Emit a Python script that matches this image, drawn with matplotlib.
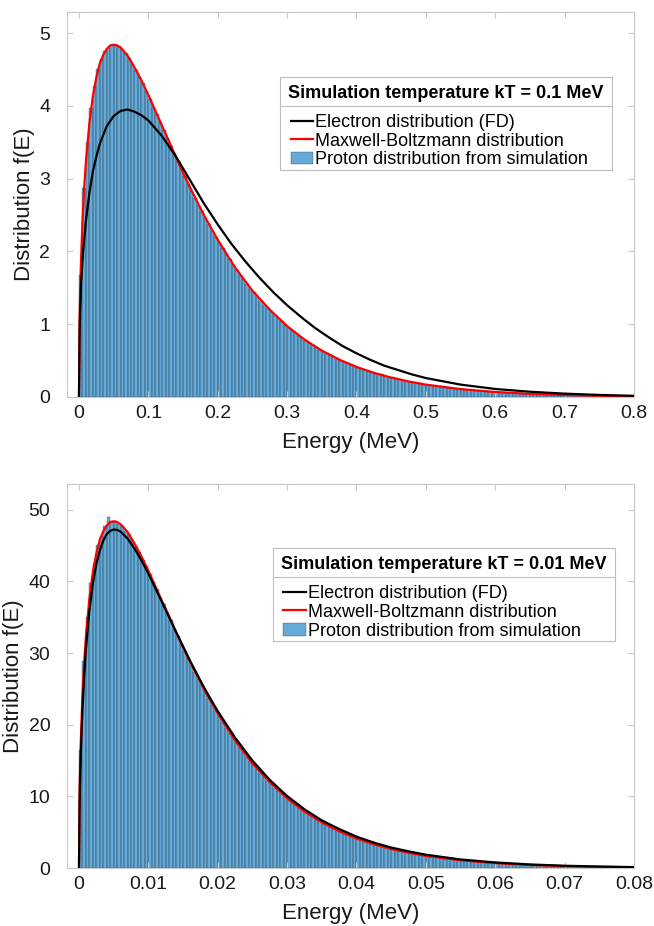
import numpy as np
import matplotlib
matplotlib.use('Agg')
from matplotlib import pyplot as plt
from matplotlib.lines import Line2D
from matplotlib.offsetbox import VPacker, HPacker, DrawingArea

plt.rcParams['font.family'] = ['Liberation Sans', 'DejaVu Sans']

# ---- top panel, kT = 0.1 MeV ----
top_bin_width = 0.005
top_counts = [
    1.68, 2.87, 3.51, 3.97, 4.27, 4.50, 4.64, 4.76, 4.80, 4.84,
    4.83, 4.82, 4.77, 4.72, 4.66, 4.57, 4.49, 4.40, 4.31, 4.20,
    4.10, 3.99, 3.89, 3.78, 3.67, 3.56, 3.45, 3.35, 3.24, 3.13,
    3.03, 2.93, 2.83, 2.74, 2.64, 2.55, 2.46, 2.37, 2.28, 2.20,
    2.12, 2.04, 1.96, 1.89, 1.82, 1.75, 1.68, 1.62, 1.55, 1.49,
    1.44, 1.38, 1.32, 1.27, 1.22, 1.17, 1.12, 1.08, 1.04, 0.99,
    0.95, 0.91, 0.88, 0.84, 0.81, 0.77, 0.74, 0.71, 0.68, 0.65,
    0.62, 0.60, 0.57, 0.55, 0.53, 0.50, 0.48, 0.46, 0.44, 0.42,
    0.40, 0.39, 0.37, 0.36, 0.34, 0.32, 0.31, 0.31, 0.29, 0.28,
    0.27, 0.26, 0.25, 0.23, 0.22, 0.21, 0.20, 0.19, 0.18, 0.17,
    0.167, 0.159, 0.152, 0.145, 0.139, 0.133, 0.127, 0.121, 0.116, 0.111,
    0.106, 0.101, 0.097, 0.092, 0.088, 0.084, 0.081, 0.077, 0.074, 0.070,
    0.067, 0.064, 0.061, 0.059, 0.056, 0.054, 0.051, 0.049, 0.047, 0.045,
    0.043, 0.041, 0.039, 0.037, 0.036, 0.034, 0.033, 0.031, 0.030, 0.028,
    0.027, 0.026, 0.025, 0.024, 0.023, 0.022, 0.021, 0.020, 0.019, 0.018,
    0.017, 0.016, 0.016, 0.015, 0.014, 0.014, 0.013, 0.012, 0.012, 0.011]

top_mb_E = [0, 0.001, 0.0025, 0.005, 0.0075, 0.01, 0.015, 0.02, 0.025, 0.03,
            0.035, 0.04, 0.045, 0.05, 0.055, 0.06, 0.07, 0.08, 0.09, 0.10,
            0.12, 0.13, 0.14, 0.15, 0.16, 0.17, 0.18, 0.19, 0.20, 0.225,
            0.25, 0.275, 0.30, 0.325, 0.35, 0.375, 0.40, 0.425, 0.45, 0.475,
            0.50, 0.55, 0.60, 0.65, 0.70, 0.75, 0.80]
top_mb_f = [0, 1.12, 1.74, 2.40, 2.87, 3.23, 3.76, 4.13, 4.39, 4.58,
            4.70, 4.78, 4.83, 4.84, 4.83, 4.80, 4.69, 4.53, 4.35, 4.15,
            3.72, 3.51, 3.29, 3.08, 2.88, 2.69, 2.50, 2.33, 2.16, 1.78,
            1.46, 1.20, 0.973, 0.789, 0.637, 0.514, 0.413, 0.332, 0.266, 0.213,
            0.170, 0.108, 0.069, 0.043, 0.027, 0.017, 0.011]

top_fd_E = [0, 0.001, 0.003, 0.006, 0.01, 0.015, 0.02, 0.025, 0.03, 0.04,
            0.05, 0.06, 0.07, 0.08, 0.09, 0.10, 0.12, 0.14, 0.16, 0.18,
            0.20, 0.22, 0.24, 0.26, 0.28, 0.30, 0.32, 0.34, 0.36, 0.38,
            0.40, 0.42, 0.44, 0.46, 0.48, 0.50, 0.55, 0.60, 0.65, 0.70,
            0.75, 0.80]
top_fd_f = [0, 0.95, 1.55, 2.0, 2.42, 2.80, 3.10, 3.30, 3.48, 3.72,
            3.86, 3.93, 3.95, 3.92, 3.87, 3.80, 3.58, 3.30, 2.98, 2.66,
            2.37, 2.10, 1.86, 1.64, 1.44, 1.26, 1.10, 0.95, 0.82, 0.70,
            0.60, 0.51, 0.43, 0.37, 0.31, 0.26, 0.17, 0.11, 0.072, 0.046,
            0.028, 0.016]

# ---- bottom panel, kT = 0.01 MeV ----
bot_bin_width = 0.0005
bot_counts = [
    16.5, 28.9, 35.0, 39.8, 42.6, 45.1, 46.3, 47.7, 49.0, 48.3,
    48.4, 48.0, 47.8, 47.1, 46.6, 45.8, 44.8, 44.1, 43.0, 42.1,
    41.0, 39.9, 38.9, 37.7, 36.8, 35.6, 34.6, 33.4, 32.4, 31.3,
    30.3, 29.3, 28.3, 27.4, 26.4, 25.5, 24.6, 23.7, 22.8, 22.0,
    21.2, 20.4, 19.6, 18.9, 18.2, 17.5, 16.8, 16.2, 15.5, 14.9,
    14.4, 13.8, 13.2, 12.7, 12.2, 11.7, 11.2, 10.8, 10.4, 9.9,
    9.5, 9.1, 8.8, 8.4, 8.1, 7.7, 7.4, 7.1, 6.8, 6.5,
    6.2, 6.0, 5.7, 5.5, 5.3, 5.0, 4.8, 4.6, 4.4, 4.2,
    4.0, 3.9, 3.7, 3.6, 3.4, 3.2, 3.1, 3.0, 2.8, 2.7,
    2.6, 2.5, 2.4, 2.3, 2.2, 2.1, 2.0, 1.9, 1.8, 1.7,
    1.67, 1.59, 1.52, 1.45, 1.39, 1.33, 1.27, 1.21, 1.16, 1.11,
    1.06, 1.01, 0.97, 0.92, 0.88, 0.84, 0.81, 0.77, 0.74, 0.70,
    0.67, 0.64, 0.61, 0.59, 0.56, 0.54, 0.51, 0.49, 0.47, 0.45,
    0.43, 0.41, 0.39, 0.37, 0.36, 0.34, 0.33, 0.31, 0.30, 0.28,
    0.27, 0.26, 0.25, 0.24, 0.23, 0.22, 0.21, 0.20, 0.19, 0.18,
    0.17, 0.16, 0.16, 0.15, 0.14, 0.14, 0.13, 0.12, 0.12, 0.11]

bot_mb_E = [0, 0.0001, 0.00025, 0.0005, 0.00075, 0.001, 0.0015, 0.002, 0.0025, 0.003,
            0.0035, 0.004, 0.0045, 0.005, 0.0055, 0.006, 0.007, 0.008, 0.009, 0.010,
            0.012, 0.013, 0.014, 0.015, 0.016, 0.017, 0.018, 0.019, 0.020, 0.0225,
            0.025, 0.0275, 0.030, 0.0325, 0.035, 0.0375, 0.040, 0.0425, 0.045, 0.0475,
            0.050, 0.055, 0.060, 0.065, 0.070, 0.075, 0.080]
bot_mb_f = [0, 11.2, 17.4, 24.0, 28.7, 32.3, 37.6, 41.3, 43.9, 45.8,
            47.0, 47.8, 48.3, 48.4, 48.3, 48.0, 46.9, 45.3, 43.5, 41.5,
            37.2, 35.1, 32.9, 30.8, 28.8, 26.9, 25.0, 23.3, 21.6, 17.8,
            14.6, 12.0, 9.73, 7.89, 6.37, 5.14, 4.13, 3.32, 2.66, 2.13,
            1.70, 1.08, 0.685, 0.432, 0.272, 0.171, 0.107]

bot_fd_E = [0, 0.0001, 0.00025, 0.0005, 0.00075, 0.001, 0.0015, 0.002, 0.0025, 0.003,
            0.0035, 0.004, 0.0045, 0.005, 0.0055, 0.006, 0.007, 0.008, 0.009, 0.010,
            0.012, 0.013, 0.014, 0.015, 0.016, 0.017, 0.018, 0.019, 0.020, 0.0225,
            0.025, 0.0275, 0.030, 0.0325, 0.035, 0.0375, 0.040, 0.0425, 0.045, 0.0475,
            0.050, 0.055, 0.060, 0.065, 0.070, 0.075, 0.080]
bot_fd_f = [0, 9.5, 15.5, 22.0, 26.8, 30.5, 35.9, 39.7, 42.4, 44.3,
            45.7, 46.6, 47.05, 47.25, 47.2, 46.95, 46.0, 44.6, 42.95, 41.1,
            37.05, 35.0, 32.95, 30.95, 28.95, 27.1, 25.25, 23.55, 21.9, 18.2,
            15.0, 12.3, 10.05, 8.2, 6.65, 5.45, 4.38, 3.55, 2.86, 2.33,
            1.86, 1.20, 0.78, 0.50, 0.32, 0.21, 0.13]

top_xticks = [0, 0.1, 0.2, 0.3, 0.4, 0.5, 0.6, 0.7, 0.8]
top_xticklabels = ['0', '0.1', '0.2', '0.3', '0.4', '0.5', '0.6', '0.7', '0.8']
top_yticks = [0, 1, 2, 3, 4, 5]
bot_xticks = [0, 0.01, 0.02, 0.03, 0.04, 0.05, 0.06, 0.07, 0.08]
bot_xticklabels = ['0', '0.01', '0.02', '0.03', '0.04', '0.05', '0.06', '0.07', '0.08']
bot_yticks = [0, 10, 20, 30, 40, 50]

labels = ['Electron distribution (FD)', 'Maxwell-Boltzmann distribution',
          'Proton distribution from simulation']
titles = ['Simulation temperature kT = 0.1 MeV', 'Simulation temperature kT = 0.01 MeV']

hist_face = (0.0, 0.447, 0.741, 0.6)
spine_gray = '#c8c8c8'
text_col = '#1a1a1a'

fig = plt.figure(figsize=(6.54, 9.26), dpi=100)
ax1 = fig.add_axes([0.1024, 0.5713, 0.8670, 0.4158])
ax2 = fig.add_axes([0.1024, 0.0626, 0.8670, 0.4147])


def panel(ax, width, counts, fd_E, fd_f, mb_E, mb_f, xlim, ylim,
          xticks, xticklabels, yticks, title, anchor):
    n = len(counts)
    edges = np.arange(n + 1) * width
    centers = edges[:-1] + width / 2
    _, _, bars = ax.hist(centers, bins=edges, weights=counts, color=hist_face,
                         edgecolor=(0, 0, 0, 0.5), linewidth=0.35)
    l_mb, = ax.plot(mb_E, mb_f, color='red', lw=1.6, zorder=2)
    l_fd, = ax.plot(fd_E, fd_f, color='black', lw=1.6, zorder=3)
    ax.set_xlim(*xlim)
    ax.set_ylim(*ylim)
    ax.set_xticks(xticks)
    ax.set_xticklabels(xticklabels)
    ax.set_yticks(yticks)
    ax.tick_params(direction='in', length=4, width=0.8, color=spine_gray,
                   labelcolor=text_col, labelsize=14, top=True, right=True)
    ax.tick_params(axis='x', pad=6)
    ax.tick_params(axis='y', pad=12)
    for s in ax.spines.values():
        s.set_color(spine_gray)
        s.set_linewidth(0.8)
    ax.set_xlabel('Energy (MeV)', fontsize=16, color=text_col, labelpad=7)
    ax.set_ylabel('Distribution f(E)', fontsize=16, color=text_col, labelpad=3)
    leg = ax.legend([l_fd, l_mb, bars.patches[0]], labels, title=title,
                    loc='upper right', bbox_to_anchor=anchor, borderaxespad=0,
                    fontsize=13, title_fontproperties={'weight': 'bold', 'size': 13},
                    frameon=True, fancybox=False, edgecolor='#bdbdbd', framealpha=1,
                    handlelength=1.25, handletextpad=0.12, labelspacing=0.1,
                    borderpad=0.1, alignment='left')
    leg.get_frame().set_linewidth(0.8)
    # MATLAB-like header: padding round the title, entries indented a little
    box = leg._legend_box
    box._children[0] = VPacker(children=[box._children[0]], pad=4.5, sep=0,
                               align='left')
    box._children[1] = HPacker(children=[DrawingArea(6, 1), box._children[1]],
                               pad=0, sep=0, align='center')
    box.sep = 4
    return leg


leg1 = panel(ax1, top_bin_width, top_counts, top_fd_E, top_fd_f, top_mb_E, top_mb_f,
             (-0.0173, 0.8), (0, 5.29), top_xticks, top_xticklabels, top_yticks,
             titles[0], (0.961, 0.831))
leg2 = panel(ax2, bot_bin_width, bot_counts, bot_fd_E, bot_fd_f, bot_mb_E, bot_mb_f,
             (-0.00173, 0.08), (0, 53.6), bot_xticks, bot_xticklabels, bot_yticks,
             titles[1], (0.966, 0.833))

# separator line under the legend title
fig.canvas.draw()
r = fig.canvas.get_renderer()
inv = fig.transFigure.inverted()
for leg in (leg1, leg2):
    bb = leg.get_window_extent(r)
    tb = leg.get_title().get_window_extent(r)
    y = tb.y0 - 4
    (x0, yy), (x1, _) = inv.transform([(bb.x0, y), (bb.x1, y)])
    fig.add_artist(Line2D([x0, x1], [yy, yy], color='#bdbdbd', lw=0.8,
                          transform=fig.transFigure))

fig.savefig('out.png', dpi=100)
